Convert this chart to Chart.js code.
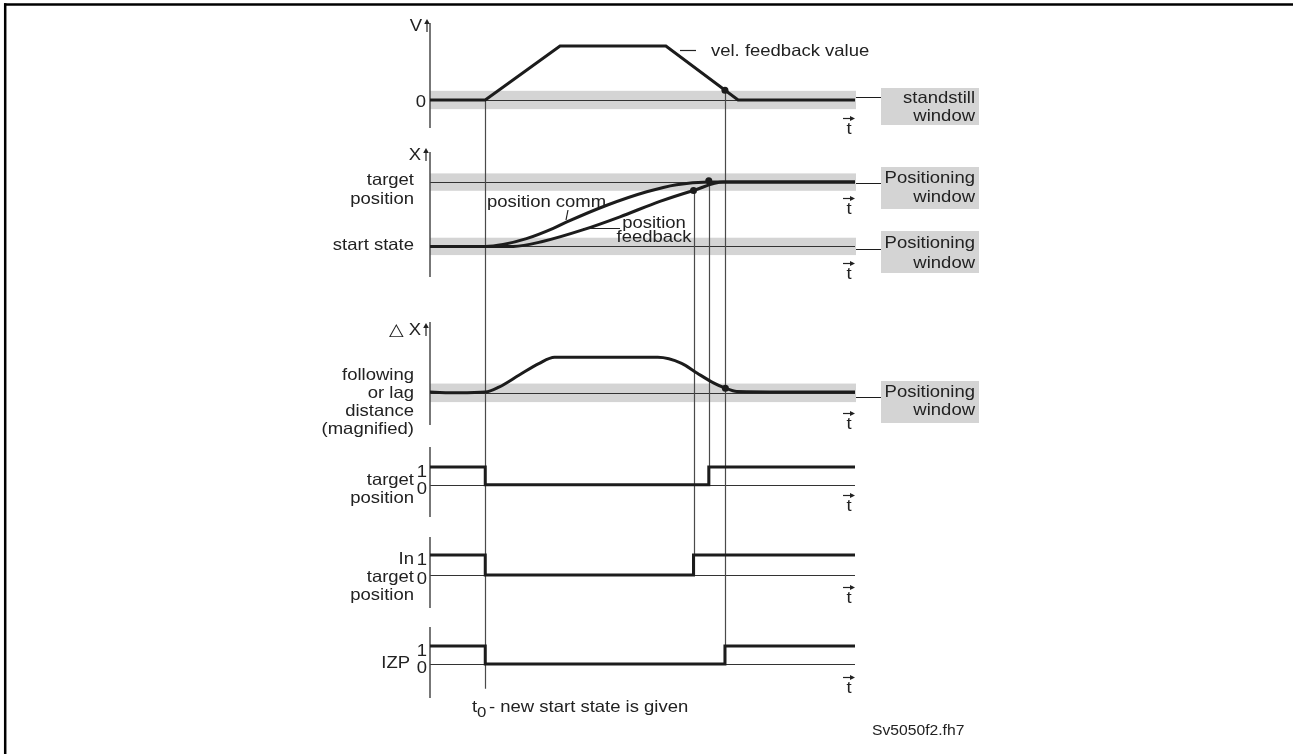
<!DOCTYPE html>
<html>
<head>
<meta charset="utf-8">
<script src="https://cdn.jsdelivr.net/npm/chart.js@4.4.0/dist/chart.umd.min.js"></script>
<style>
  html, body { margin: 0; padding: 0; background: #fff; }
  #wrap { position: relative; width: 1293px; height: 754px; }
</style>
</head>
<body>
<div id="wrap"><canvas id="diagram"></canvas></div>
<script>
// time runs 0..100 across the plot, t0 is the new start state
const T0 = 13;

// velocity feedback, 1 = travel speed
const velTime  = [0, 13, 30.6, 55.5, 72.5, 100];
const velValue = [0, 0, 1, 1, 0, 0];

// position command and position feedback, 0 = start state, 1 = target
const cmdTime  = [0, 13, 17.2, 22.7, 29, 32.2, 41.6, 51, 58, 65.6, 70, 100];
const cmdValue = [0, 0, 0.03, 0.12, 0.28, 0.38, 0.64, 0.85, 0.96, 1.0, 1.0, 1.0];
const fbTime   = [0, 13, 19.6, 26.7, 36.1, 44.7, 54.1, 62, 69, 75, 100];
const fbValue  = [0, 0, 0, 0.08, 0.26, 0.46, 0.70, 0.87, 1.0, 1.0, 1.0];

// following (lag) distance, magnified
const lagTime  = [0, 6.8, 13, 16.2, 21, 25.6, 29.3, 53.6, 59.2, 62.9, 66.7, 69.5, 72.2, 100];
const lagValue = [0.02, 0.0, 0.02, 0.16, 0.5, 0.82, 1, 1, 0.83, 0.55, 0.28, 0.13, 0.04, 0.02];

// status bits
const targetBitTime  = [0, 13, 13, 65.6, 65.6, 100];
const targetBitValue = [1, 1, 0, 0, 1, 1];
const inTargetTime   = [0, 13, 13, 62, 62, 100];
const inTargetValue  = [1, 1, 0, 0, 1, 1];
const izpTime        = [0, 13, 13, 69.4, 69.4, 100];
const izpValue       = [1, 1, 0, 0, 1, 1];

// marked instants [t, value]
const velDot = [69.4, 0.18];
const cmdDot = [65.6, 1.02];
const fbDot  = [62, 0.87];
const lagDot = [69.5, 0.13];

// window half widths
const standstillWindow = 0.17;
const positionWindow   = 0.135;
const lagWindow        = 0.26;

const INK = '#1c1c1c';
const LINE = '#4a4a4a';
const BAND = '#d4d4d4';
const FONT = '"Liberation Sans", Arial, sans-serif';
const H = 754;

// panel placement: pixel row of value 0, pixels per unit, axis extent
const panels = {
  vel: { zero: 97,  unit: 54.5, top: 23,  bottom: 128 },
  pos: { zero: 245, unit: 65,   top: 152, bottom: 277 },
  lag: { zero: 393, unit: 36,   top: 322, bottom: 425 },
  s1:  { zero: 486, unit: 18,   top: 447, bottom: 517 },
  s2:  { zero: 577, unit: 20,   top: 537, bottom: 608 },
  s3:  { zero: 667, unit: 18,   top: 627, bottom: 698 }
};

function yScale(p) {
  return { type: 'linear', display: false, min: (p.zero - H) / p.unit, max: p.zero / p.unit };
}

function pts(ts, vs) {
  return ts.map((t, i) => ({ x: t, y: vs[i] }));
}

function curve(ts, vs, axis, smooth) {
  return {
    data: pts(ts, vs), yAxisID: axis,
    borderColor: INK, borderWidth: 3, pointRadius: 0, fill: false,
    tension: 0, cubicInterpolationMode: smooth ? 'monotone' : 'default',
    borderJoinStyle: 'miter', borderCapStyle: 'butt'
  };
}

function dot(d, axis) {
  return {
    data: [{ x: d[0], y: d[1] }], yAxisID: axis, showLine: false,
    pointRadius: 3.5, pointBackgroundColor: INK, pointBorderWidth: 0
  };
}

function text(ctx, s, x, y, align, size) {
  ctx.save();
  ctx.font = (size || 16.5) + 'px ' + FONT;
  ctx.fillStyle = '#222';
  ctx.textAlign = align || 'left';
  ctx.textBaseline = 'middle';
  ctx.translate(x, y);
  ctx.scale(1.12, 1);
  ctx.fillText(s, 0, 0);
  ctx.restore();
}

function line(ctx, x0, y0, x1, y1) {
  ctx.beginPath();
  ctx.moveTo(x0, y0);
  ctx.lineTo(x1, y1);
  ctx.stroke();
}

// tolerance windows with their boxes on the right
const windows = [
  { axis: 'vel', level: 0, tol: standstillWindow, lead: 97,  box: [88, 125],  lines: [['standstill', 98], ['window', 116]] },
  { axis: 'pos', level: 1, tol: positionWindow,   lead: 183, box: [167, 209], lines: [['Positioning', 178], ['window', 197]] },
  { axis: 'pos', level: 0, tol: positionWindow,   lead: 249, box: [231, 273], lines: [['Positioning', 243], ['window', 263]] },
  { axis: 'lag', level: 0, tol: lagWindow,        lead: 397, box: [381, 423], lines: [['Positioning', 392], ['window', 410]] }
];

// thin reference levels
const levels = [['vel', 0], ['pos', 0], ['pos', 1], ['lag', 0], ['s1', 0], ['s2', 0], ['s3', 0]];

// vertical markers from an instant down to the bit that reacts
const markers = [
  { t: T0, from: ['vel', 0], to: ['s3', -1.4] },
  { t: velDot[0], from: ['vel', velDot[1]], to: ['s3', 0] },
  { t: cmdDot[0], from: ['pos', cmdDot[1]], to: ['s1', 0] },
  { t: fbDot[0], from: ['pos', fbDot[1]], to: ['s2', 0] }
];

// "t" arrows under each trace
const timeArrows = [118, 198, 263, 413, 495, 587, 677];

const diagramPlugin = {
  id: 'diagram',
  beforeDatasetsDraw(chart) {
    const { ctx, chartArea: a, scales } = chart;
    const px = t => scales.x.getPixelForValue(t);
    const py = (id, v) => scales[id].getPixelForValue(v);
    ctx.save();

    // frame
    ctx.strokeStyle = '#000';
    ctx.lineWidth = 2.5;
    line(ctx, 4, 4.5, 1293, 4.5);
    line(ctx, 5.2, 3.3, 5.2, 754);

    ctx.fillStyle = BAND;
    windows.forEach(w => {
      const y0 = py(w.axis, w.level + w.tol);
      const y1 = py(w.axis, w.level - w.tol);
      ctx.fillRect(a.left, y0, a.right - a.left + 1, y1 - y0);
      ctx.fillRect(881, w.box[0], 98, w.box[1] - w.box[0]);
    });

    ctx.strokeStyle = '#333';
    ctx.lineWidth = 1;
    levels.forEach(([id, v]) => {
      const y = Math.round(py(id, v)) + 0.5;
      line(ctx, a.left, y, a.right, y);
    });

    ctx.strokeStyle = INK;
    windows.forEach(w => line(ctx, a.right + 1, w.lead + 0.5, 881, w.lead + 0.5));

    // axes
    ctx.strokeStyle = LINE;
    ctx.lineWidth = 1.5;
    Object.values(panels).forEach(p => line(ctx, a.left, p.top, a.left, p.bottom));

    ctx.lineWidth = 1.2;
    markers.forEach(m => {
      const x = Math.round(px(m.t)) + 0.5;
      line(ctx, x, py(m.from[0], m.from[1]), x, py(m.to[0], m.to[1]));
    });
    ctx.restore();
  },
  afterDatasetsDraw(chart) {
    const { ctx, scales } = chart;
    const py = (id, v) => scales[id].getPixelForValue(v);
    ctx.save();
    ctx.strokeStyle = '#222';
    ctx.fillStyle = '#222';
    ctx.lineWidth = 1.2;

    // axis names with up arrows
    const upArrow = (x, y0, y1) => {
      line(ctx, x, y0, x, y1 + 3);
      ctx.beginPath();
      ctx.moveTo(x - 2.8, y1 + 5);
      ctx.lineTo(x, y1);
      ctx.lineTo(x + 2.8, y1 + 5);
      ctx.closePath();
      ctx.fill();
    };
    text(ctx, 'V', 422, 26, 'right');
    upArrow(427, 32, 19);
    text(ctx, 'X', 421, 155, 'right');
    upArrow(426, 161, 148);
    text(ctx, '\u25B3 X', 421, 330, 'right');
    upArrow(426, 336, 323);

    // value labels
    text(ctx, '0', 426, py('vel', 0) + 2, 'right');
    ['s1', 's2', 's3'].forEach(id => {
      text(ctx, '1', 427, py(id, 1) + 5, 'right');
      text(ctx, '0', 427, py(id, 0) + 5, 'right');
    });

    // trace names
    [['target', 180], ['position', 199], ['start state', 245],
     ['following', 375], ['or lag', 393], ['distance', 411], ['(magnified)', 429],
     ['target', 480], ['position', 498],
     ['In', 559], ['target', 577], ['position', 595]].forEach(([s, y]) => text(ctx, s, 414, y, 'right'));
    text(ctx, 'IZP', 410, 663, 'right');

    // curve captions
    ctx.lineWidth = 1.2;
    line(ctx, 680, 50.5, 696, 50.5);
    text(ctx, 'vel. feedback value', 711, 51, 'left');
    text(ctx, 'position comm', 487, 202, 'left');
    line(ctx, 568, 210, 566, 220);
    line(ctx, 583, 228.5, 620, 228.5);
    text(ctx, 'position', 654, 223, 'center');
    text(ctx, 'feedback', 654, 237, 'center');

    // window box captions
    windows.forEach(w => w.lines.forEach(([s, y]) => text(ctx, s, 975, y, 'right')));

    // time arrows
    timeArrows.forEach(y => {
      line(ctx, 843, y + 0.5, 853, y + 0.5);
      ctx.beginPath();
      ctx.moveTo(850, y - 2);
      ctx.lineTo(855, y + 0.5);
      ctx.lineTo(850, y + 3);
      ctx.closePath();
      ctx.fill();
      text(ctx, 't', 849, y + 11, 'center');
    });

    // start instant and drawing number
    text(ctx, 't', 472, 707, 'left');
    text(ctx, '0', 477, 713, 'left', 15);
    text(ctx, '- new start state is given', 489, 707, 'left');
    text(ctx, 'Sv5050f2.fh7', 872, 731, 'left', 14);
    ctx.restore();
  }
};

new Chart(document.getElementById('diagram'), {
  type: 'line',
  data: {
    datasets: [
      curve(velTime, velValue, 'vel', false),
      curve(cmdTime, cmdValue, 'pos', true),
      curve(fbTime, fbValue, 'pos', true),
      curve(lagTime, lagValue, 'lag', true),
      curve(targetBitTime, targetBitValue, 's1', false),
      curve(inTargetTime, inTargetValue, 's2', false),
      curve(izpTime, izpValue, 's3', false),
      dot(velDot, 'vel'),
      dot(cmdDot, 'pos'),
      dot(fbDot, 'pos'),
      dot(lagDot, 'lag')
    ]
  },
  options: {
    responsive: true,
    maintainAspectRatio: false,
    animation: false,
    events: [],
    layout: { padding: { left: 430, right: 438, top: 0, bottom: 0 } },
    plugins: { legend: { display: false }, tooltip: { enabled: false } },
    scales: {
      x: { type: 'linear', display: false, min: 0, max: 100 },
      vel: yScale(panels.vel),
      pos: yScale(panels.pos),
      lag: yScale(panels.lag),
      s1: yScale(panels.s1),
      s2: yScale(panels.s2),
      s3: yScale(panels.s3)
    }
  },
  plugins: [diagramPlugin]
});
</script>
</body>
</html>
